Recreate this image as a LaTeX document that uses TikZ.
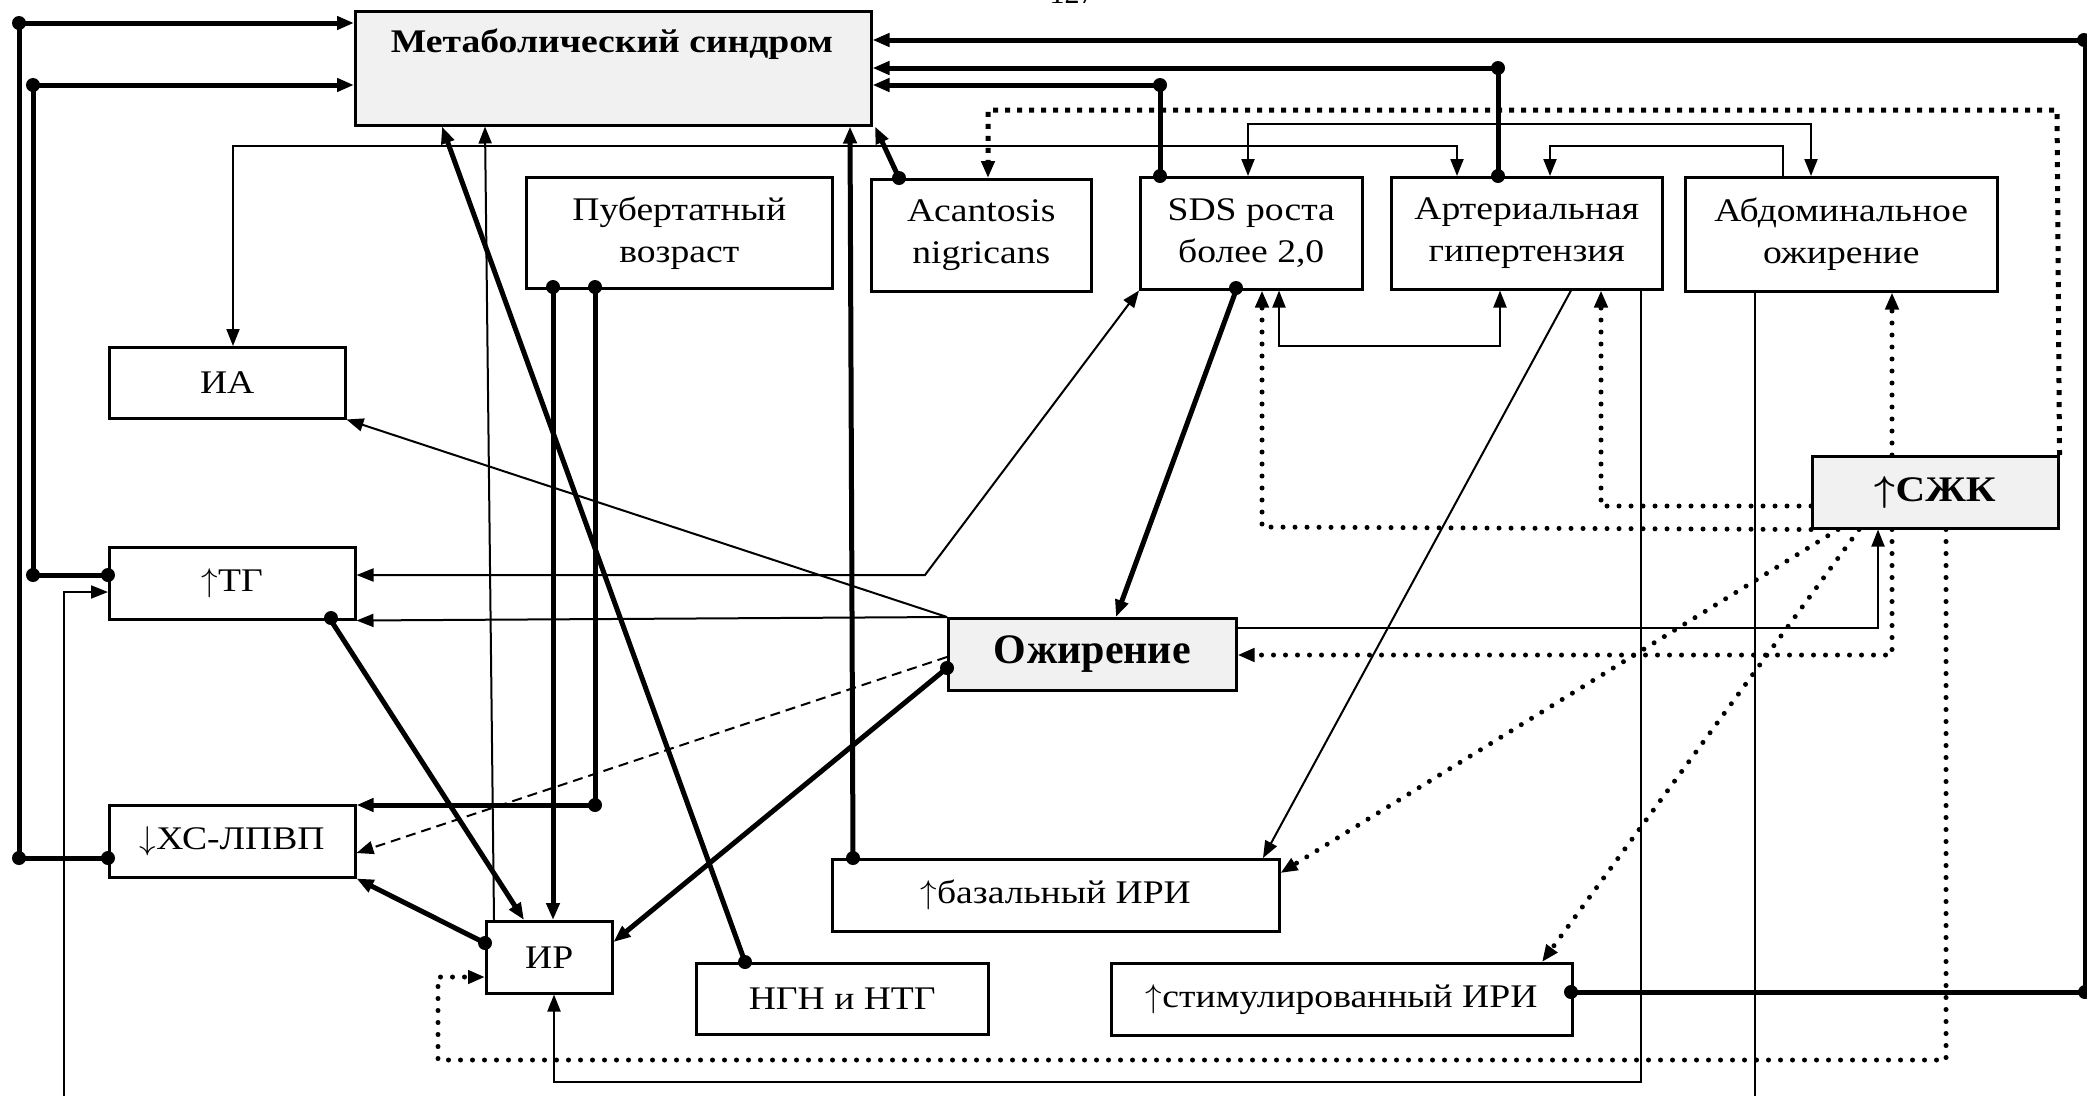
\RequirePackage{fix-cm}
\documentclass[tikz,border=0pt]{standalone}
\usepackage{amsmath,amsbsy}
\usepackage{fontspec}
\setmainfont{Liberation Serif}[FakeStretch=1.14]
\newfontfamily\plainserif{Liberation Serif}
\usetikzlibrary{arrows.meta}
\definecolor{boxfill}{RGB}{241,241,241}
\newcommand{\upar}{$\uparrow$}
\newcommand{\dnar}{$\downarrow$}
\newcommand{\bupar}{$\boldsymbol{\uparrow}$}
\begin{document}
\begin{tikzpicture}[x=1pt,y=-1pt,
  box/.style={draw, line width=2.5pt, inner sep=0pt, anchor=north west, align=center,
    font=\fontsize{33}{42}\selectfont},
  keybox/.style={box, fill=boxfill},
  tip/.style={-{Triangle[length=17pt,width=13pt]}},
  tips/.style={{Triangle[length=17pt,width=13pt]}-{Triangle[length=17pt,width=13pt]}},
  thinln/.style={line width=2pt},
  thickln/.style={line width=5pt},
  dotln/.style={line width=5pt, line cap=round, dash pattern=on 0pt off 12pt},
  sqdot/.style={line width=5pt, dash pattern=on 5pt off 7pt},
  dashln/.style={line width=2pt, dash pattern=on 10pt off 6pt},
]
\useasboundingbox (0,0) rectangle (2087,1096);

% page number, cut by the top edge
\node[anchor=base, font=\plainserif\fontsize{30}{36}\selectfont] (pg) at (1072,3) {127};

% boxes
\node[keybox, minimum width=516, minimum height=114] (met) at (354,10) {};
\node[font=\bfseries\fontsize{33}{40}\selectfont] (mettxt) at (612,44) {Метаболический синдром};
\node[box, minimum width=306, minimum height=111] (pub) at (525,176) {Пубертатный\\возраст};
\node[box, minimum width=220, minimum height=112] (acan) at (870,178) {Acantosis\\nigricans};
\node[box, minimum width=222, minimum height=112] (sds) at (1139,176) {SDS роста\\более 2,0};
\node[box, minimum width=271, minimum height=112] (art) at (1390,176) {Артериальная\\гипертензия};
\node[box, minimum width=312, minimum height=114] (abd) at (1684,176) {Абдоминальное\\ожирение};
\node[box, minimum width=236, minimum height=71] (ia) at (108,346) {ИА};
\node[box, minimum width=246, minimum height=72] (tg) at (108,546) {\upar ТГ};
\node[box, minimum width=246, minimum height=72] (hdl) at (108,804) {\dnar ХС-ЛПВП};
\node[box, minimum width=126, minimum height=72] (ir) at (485,920) {ИР};
\node[box, minimum width=292, minimum height=71] (ngn) at (695,962) {НГН и НТГ};
\node[box, minimum width=447, minimum height=72] (bas) at (831,858) {\upar базальный ИРИ};
\node[box, minimum width=461, minimum height=72] (stim) at (1110,962) {\upar стимулированный ИРИ};
\node[keybox, minimum width=288, minimum height=72,
  font=\plainserif\bfseries\fontsize{42}{48}\selectfont] (ozh) at (947,617) {Ожирение};
\node[keybox, minimum width=246, minimum height=72,
  font=\bfseries\fontsize{36}{40}\selectfont] (szk) at (1811,455) {\bupar СЖК};

\coordinate (tgin) at (64,1096);
\coordinate (abdout) at (1755,1096);

% left buses into the syndrome box
\draw[thickln, tip] (hdl.west |- 0,858) -- (19,858) -- (19,23) -- (met.west |- 0,23);
\draw[thickln, tip] (tg.west |- 0,575) -- (33,575) -- (33,85) -- (met.west |- 0,85);
\draw[thinln, tip] (tgin) -- (64,592) -- (tg.west |- 0,592);

% right buses into the syndrome box
\draw[thickln, tip] (stim.east |- 0,992) -- (2085,992) -- (2085,40) -- (met.east |- 0,40);
\draw[thickln, tip] (art.north -| 1498,0) -- (1498,68) -- (met.east |- 0,68);
\draw[thickln, tip] (sds.north -| 1160,0) -- (1160,85) -- (met.east |- 0,85);
\draw[thickln, tip] (acan.north -| 899,0) -- (met.south -| 875,0);

% thin links across the upper row
\draw[thinln, tips] (ia.north -| 233,0) -- (233,146) -- (1457,146) -- (art.north -| 1457,0);
\draw[thinln, tips] (sds.north -| 1248,0) -- (1248,124) -- (1811,124) -- (abd.north -| 1811,0);
\draw[thinln, tip] (abd.north -| 1783,0) -- (1783,146) -- (1550,146) -- (art.north -| 1550,0);

% free fatty acids to acanthosis
\draw[sqdot, tip] (szk.north east) -- (2057,110) -- (988,110) -- (acan.north -| 988,0);

% puberty
\draw[thickln, tip] (pub.south -| 553,0) -- (ir.north -| 553,0);
\draw[thickln, tip] (pub.south -| 595,0) -- (595,805) -- (hdl.east |- 0,805);

% links into the syndrome box from below
\draw[thinln, tip] (ir.north -| 494,0) -- (met.south -| 485,0);
\draw[thickln, tip] (ngn.north -| 745,0) -- (met.south -| 442,0);
\draw[thickln, tip] (bas.north -| 853,0) -- (met.south -| 850,0);

% lipids and insulin resistance
\draw[thickln, tip] (tg.south -| 331,0) -- (ir.north -| 524,0);
\draw[thickln, tip] (ir.west |- 0,943) -- (hdl.south east);

% obesity
\draw[thickln, tip] (ozh.west |- 0,668) -- (ir.east |- 0,942);
\draw[dashln, tip] (ozh.west |- 0,657) -- (hdl.east |- 0,853);
\draw[thinln, tip] (ozh.north west) -- (ia.south east);
\draw[thinln, tip] (ozh.north west) -- (tg.south east);
\draw[thinln, tips] (tg.east |- 0,575) -- (925,575) -- (sds.south west);
\draw[thickln, tip] (sds.south -| 1236,0) -- (ozh.north -| 1116,0);

% height SDS, hypertension, abdominal obesity
\draw[thinln, tips] (sds.south -| 1279,0) -- (1279,346) -- (1500,346) -- (art.south -| 1500,0);
\draw[thinln, tip] (art.south -| 1571,0) -- (bas.north -| 1263,0);
\draw[thinln, tip] (art.south -| 1641,0) -- (1641,1082) -- (554,1082) -- (ir.south -| 554,0);
\draw[thinln] (abd.south -| 1755,0) -- (abdout);

% free fatty acids
\draw[dotln, tip] (szk.south west) -- (1262,527) -- (sds.south -| 1262,0);
\draw[dotln, tip] (szk.west |- 0,506) -- (1601,506) -- (art.south -| 1601,0);
\draw[dotln, tip] (szk.north -| 1892,0) -- (abd.south -| 1892,0);
\draw[dotln, tip] (szk.south -| 1892,0) -- (1892,655) -- (ozh.east |- 0,655);
\draw[thinln, tip] (ozh.east |- 0,628) -- (1878,628) -- (szk.south -| 1878,0);
\draw[dotln, tip] (szk.south -| 1838,0) -- (bas.east |- 0,873);
\draw[dotln, tip] (szk.south -| 1859,0) -- (stim.north -| 1542,0);
\draw[dotln, tip] (szk.south -| 1946,0) -- (1946,1060) -- (438,1060) -- (438,977) -- (ir.west |- 0,977);

% junction dots
\foreach \p in {(19,23),(33,85),(19,858),(108,858),(33,575),(108,575),
  (2084,40),(2085,992),(1571,992),(1498,68),(1498,176),(1160,85),(1160,176),
  (899,178),(553,287),(595,287),(595,805),(745,962),(853,858),(331,618),
  (485,943),(947,668),(1236,288)}
  \fill \p circle[radius=7pt];
\end{tikzpicture}
\end{document}
